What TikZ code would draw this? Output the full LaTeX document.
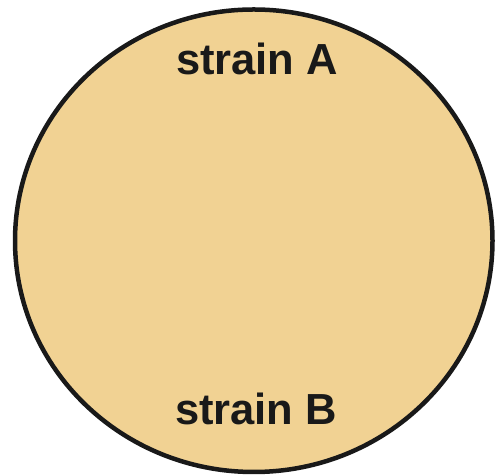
\documentclass[tikz,border=0pt]{standalone}
\usepackage{fontspec}
\setmainfont{Liberation Sans}
\definecolor{cellfill}{RGB}{241,210,147}
\begin{document}
\begin{tikzpicture}[x=1pt,y=1pt,
  lbl/.style={font=\fontsize{43.5}{50}\selectfont\bfseries, text=black!90, anchor=base, inner sep=0pt}]
\useasboundingbox (0,0) rectangle (498,476);
\draw[line width=4.5pt, draw=black!90, fill=cellfill] (253.75,235.25) ellipse [x radius=238.75, y radius=231.25];
\node[lbl] (a) at (257,401) {strain A};
\node[lbl] (b) at (256,51) {strain B};
\end{tikzpicture}
\end{document}
